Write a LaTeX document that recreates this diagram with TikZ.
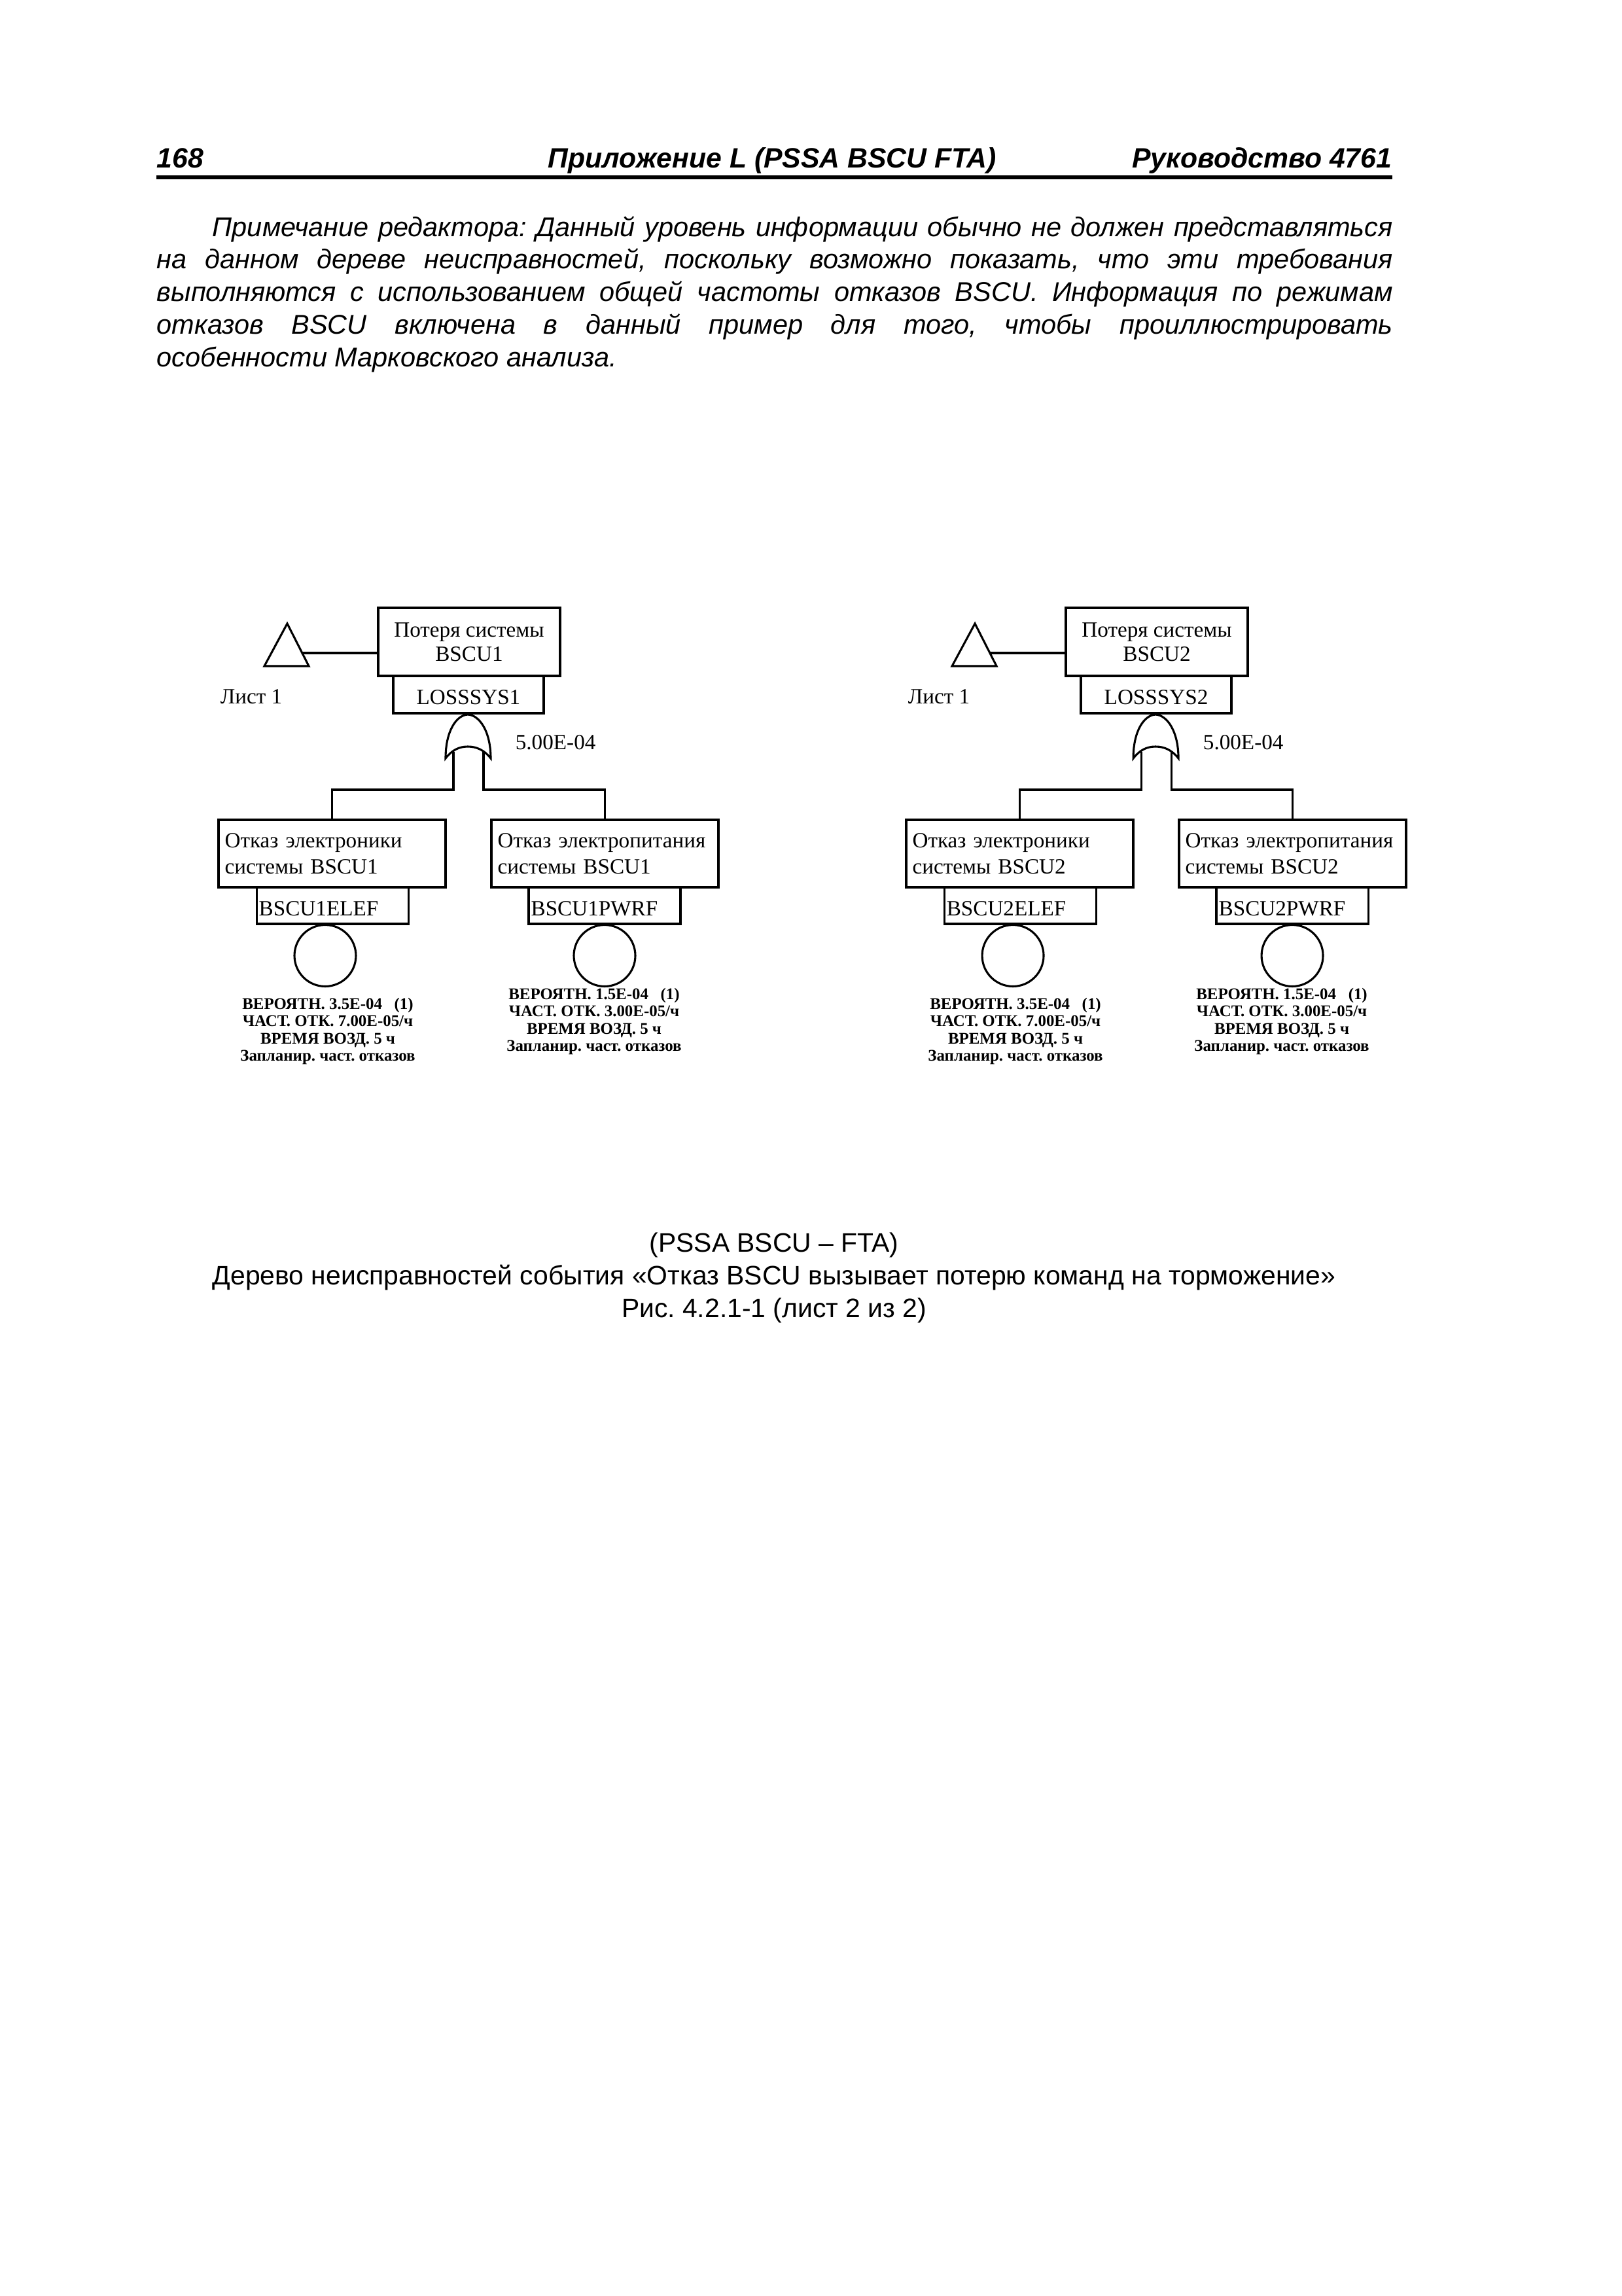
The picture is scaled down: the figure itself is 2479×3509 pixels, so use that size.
\documentclass[tikz,border=0pt]{standalone}
\usepackage{fontspec}
\setmainfont{Liberation Serif}
\setsansfont{Liberation Sans}
\AtBeginDocument{\frenchspacing}
\begin{document}
\begin{tikzpicture}[x=0.084705mm,y=-0.084705mm,
  box/.style={draw, line width=0.9pt, inner sep=0pt},
  topbox/.style={box, minimum width=23.55mm, minimum height=8.81mm, align=center, font=\fontsize{8}{8.9}\selectfont},
  codebox/.style={box, minimum width=19.48mm, minimum height=4.83mm, font=\fontsize{8}{9}\selectfont, text height=7.4pt, text depth=0pt},
  evbox/.style={box, minimum height=8.72mm, inner xsep=2.3pt, text width=27.77mm, align=left, font=\fontsize{8}{9.6}\selectfont},
  idbox/.style={box, minimum height=4.74mm, inner xsep=0.8pt, text width=19.09mm, align=left, font=\fontsize{8}{9}\selectfont, text height=7.6pt, text depth=0pt},
  basic/.style={circle, draw, line width=0.75pt, minimum size=7.96mm, inner sep=0pt},
  plain/.style={inner sep=0pt, font=\fontsize{8}{9}\selectfont},
  prob/.style={inner sep=0pt, align=center, font=\fontsize{6}{6.36}\bfseries\selectfont},
  wire/.style={line width=0.75pt},
  pagetext/.style={inner sep=0pt, font=\sffamily\fontsize{10}{12}\selectfont},
  headtext/.style={inner sep=0pt, font=\sffamily\bfseries\itshape\fontsize{10.3}{12}\selectfont}
]
\useasboundingbox (0,0) rectangle (2479,3509);
\fill[white] (0,0) rectangle (2479,3509);

% header
\node[headtext, anchor=base west] (hnum) at (239,256) {168};
\node[headtext, anchor=base west] (hmid) at (837,256) {Приложение L (PSSA BSCU FTA)};
\node[headtext, anchor=base east] (hright) at (2128,256) {Руководство 4761};
\draw[line width=1.3pt] (239,271) -- (2128,271);

% editor's note
\node[pagetext, anchor=base west, text width=160mm, align=justify, font=\sffamily\itshape\fontsize{10}{12}\selectfont] (note) at (239,361)
{\hyphenpenalty=10000\tolerance=10000\hspace*{7.2mm}Примечание редактора: Данный уровень информации обычно не должен представляться\linebreak
на данном дереве неисправностей, поскольку возможно показать, что эти требования\linebreak
выполняются с использованием общей частоты отказов BSCU. Информация по режимам\linebreak
отказов BSCU включена в данный пример для того, чтобы проиллюстрировать\linebreak
особенности Марковского анализа.};

\newcommand\bscutree[2]{%
\begin{scope}[xshift=#2]
  \node[topbox] (top#1) at (717,981) {Потеря системы\\BSCU#1};
  \node[codebox] (loss#1) at (716,1061.5) {LOSSSYS#1};
  % transfer triangle
  \draw[wire] (404,1018) -- (439,953) -- (472,1018) -- cycle;
  \coordinate (tr#1) at (462,998);
  \draw[line width=0.9pt] (tr#1) -- (top#1.west |- tr#1);
  \node[plain, anchor=base west] (sheet#1) at (336,1075) {Лист 1};
  % OR gate
  \draw[wire] (681,1159) .. controls (681,1118) and (697,1093) .. (715,1092)
    .. controls (733,1093) and (750,1118) .. (750,1159)
    .. controls (740,1146) and (728,1141) .. (715,1141)
    .. controls (702,1141) and (691,1146) .. (681,1159) -- cycle;
  \coordinate (gl#1) at (693,1149);
  \coordinate (gr#1) at (739,1149);
  \coordinate (bus#1) at (715,1207);
  \node[plain, anchor=base west] (pr#1) at (787,1145) {5.00E-04};
  % events
  \node[evbox] (eva#1) at (507.5,1304.5) {Отказ электроники\\системы BSCU#1};
  \node[evbox] (evb#1) at (924.5,1304.5) {Отказ электропитания\\системы BSCU#1};
  \draw[wire] (gl#1) -- (gl#1 |- bus#1) -| (eva#1.north);
  \draw[wire] (gr#1) -- (gr#1 |- bus#1) -| (evb#1.north);
  \node[idbox] (ida#1) at (508.4,1384) {BSCU#1ELEF};
  \node[idbox] (idb#1) at (924.3,1384) {BSCU#1PWRF};
  \node[basic] (ca#1) at (497,1460.5) {};
  \node[basic] (cb#1) at (924,1460.5) {};
  \node[prob, anchor=base] (ta#1) at (501,1621.5) {ВЕРОЯТН. 3.5E-04\ \ \ (1)\\ЧАСТ. ОТК. 7.00E-05/ч\\ВРЕМЯ ВОЗД. 5 ч\\Запланир. част. отказов};
  \node[prob, anchor=base] (tb#1) at (908,1606.5) {ВЕРОЯТН. 1.5E-04\ \ \ (1)\\ЧАСТ. ОТК. 3.00E-05/ч\\ВРЕМЯ ВОЗД. 5 ч\\Запланир. част. отказов};
\end{scope}}

\bscutree{1}{0mm}
\bscutree{2}{89.025mm}

% caption (base anchor = last line)
\node[pagetext, anchor=base, align=center, font=\sffamily\fontsize{9.85}{12}\selectfont] (cap) at (1183,2013)
{(PSSA BSCU – FTA)\\Дерево неисправностей события «Отказ BSCU вызывает потерю команд на торможение»\\Рис. 4.2.1-1 (лист 2 из 2)};
\end{tikzpicture}
\end{document}
